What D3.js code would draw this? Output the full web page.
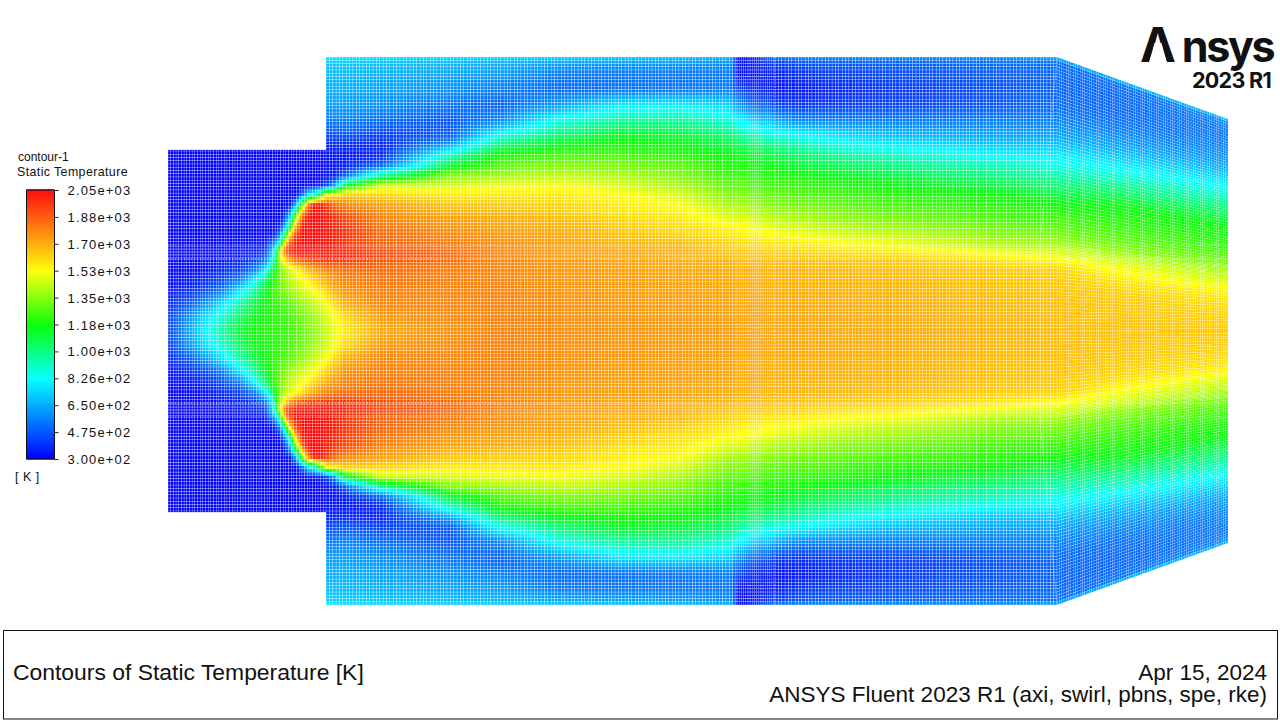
<!DOCTYPE html>
<html><head><meta charset="utf-8">
<script src="https://cdnjs.cloudflare.com/ajax/libs/d3/7.8.5/d3.min.js"></script>
<style>html,body{margin:0;padding:0;background:#fff;overflow:hidden}svg{display:block}text{font-family:"Liberation Sans",Arial,sans-serif;fill:#111}</style>
</head><body><svg id="c" width="1280" height="720"></svg>
<script>
// Axial stations (units from inlet plane) and radial rows of the half-domain table
const stations = [0,22,37,52,72,87,97,104,110,116,122,128,134,140,146,152,158,166,177,212,282,332,392,452,512,562,565,569,577,607,632,682,732,832,889,952,1060];
const radii = [0,14,28,42,52,62,72,79,86,96,106,116,126,136,146,156,166,176,186,196,211,226,241,256,269,274];
// Static temperature [K], one profile per station, axis to wall
const temperature = [
[430,415,370,330,310,300,300,300,300,300,300,300,300,300,300,300,300,300,300,300,300,300,300,300,300,300],
[650,610,480,370,335,310,305,300,300,300,300,300,300,300,300,300,300,300,300,300,300,300,300,300,300,300],
[800,760,600,430,370,330,310,305,302,300,300,300,300,300,300,300,300,300,300,300,300,300,300,300,300,300],
[950,870,740,510,430,370,330,315,310,300,300,300,300,300,300,300,300,300,300,300,300,300,300,300,300,300],
[1120,1060,950,740,540,420,350,330,320,305,300,300,300,300,300,300,300,300,300,300,300,300,300,300,300,300],
[1190,1160,1090,960,800,540,400,340,320,305,300,300,300,300,300,300,300,300,300,300,300,300,300,300,300,300],
[1200,1190,1180,1120,1020,760,500,400,350,310,300,300,300,300,300,300,300,300,300,300,300,300,300,300,300,300],
[1210,1205,1215,1215,1170,1030,760,700,550,320,300,300,300,300,300,300,300,300,300,300,300,300,300,300,300,300],
[1220,1215,1240,1280,1290,1280,1300,1300,826,450,310,300,300,300,300,300,300,300,300,300,300,300,300,300,300,300],
[1235,1235,1270,1340,1370,1400,1600,1800,1650,950,520,340,300,300,300,300,300,300,300,300,300,300,300,300,300,300],
[1255,1260,1300,1390,1430,1470,1780,1980,1950,1620,1050,680,340,300,300,300,300,300,300,300,300,300,300,300,300,300],
[1275,1285,1335,1430,1480,1530,1880,2030,2030,1950,1680,1300,680,310,300,300,300,300,300,300,300,300,300,300,300,300],
[1300,1315,1370,1470,1520,1600,1930,2030,2045,2040,2000,1800,1300,500,300,300,300,300,300,300,300,300,300,300,300,300],
[1330,1345,1405,1505,1560,1670,1950,2030,2045,2050,2050,2030,1800,800,310,300,300,300,300,300,300,300,300,300,300,300],
[1365,1380,1440,1530,1620,1720,1960,2030,2045,2050,2050,2050,2030,900,320,300,300,300,300,300,300,300,300,300,300,300],
[1400,1420,1480,1580,1670,1760,1970,2030,2040,2050,2050,2050,2040,1150,350,300,300,300,300,300,300,300,300,300,300,300],
[1430,1460,1520,1630,1710,1790,1975,2020,2030,2020,2020,2010,1950,1530,400,330,320,320,370,450,560,620,650,680,720,800],
[1500,1515,1600,1700,1750,1810,1970,2010,2000,2010,1990,1960,1850,1580,600,340,325,330,370,450,560,620,650,680,720,790],
[1570,1600,1700,1760,1790,1830,1970,2000,1960,1960,1940,1900,1780,1640,1100,480,350,330,380,470,570,620,650,680,720,780],
[1700,1740,1780,1800,1820,1840,1900,1920,1860,1850,1820,1780,1730,1620,1440,950,480,360,360,420,520,590,630,660,700,770],
[1760,1770,1780,1790,1795,1800,1840,1850,1810,1780,1750,1710,1650,1570,1460,1340,1100,920,640,470,470,530,590,630,680,760],
[1790,1790,1790,1790,1785,1780,1790,1790,1770,1745,1720,1690,1630,1570,1500,1380,1280,1190,1040,850,570,490,550,610,670,750],
[1770,1765,1760,1755,1750,1745,1745,1740,1725,1710,1690,1650,1610,1570,1510,1430,1340,1260,1160,1030,860,620,510,540,640,730],
[1750,1745,1740,1735,1730,1725,1720,1715,1690,1660,1630,1590,1560,1530,1470,1400,1330,1260,1200,1140,960,790,530,530,630,720],
[1740,1735,1730,1725,1720,1710,1700,1690,1680,1620,1590,1560,1525,1470,1400,1340,1280,1220,1175,1110,960,800,540,530,620,700],
[1730,1725,1720,1715,1705,1695,1680,1650,1620,1570,1530,1460,1400,1340,1290,1240,1200,1170,1100,1020,880,730,560,540,590,680],
[1729,1724,1719,1714,1704,1694,1679,1649,1619,1568,1528,1458,1398,1338,1288,1238,1198,1165,1095,1015,860,700,550,530,570,660],
[1728,1723,1718,1713,1703,1693,1678,1648,1618,1565,1525,1455,1395,1335,1285,1235,1195,1160,1085,1010,800,620,440,340,320,340],
[1725,1720,1715,1710,1700,1690,1675,1645,1610,1555,1515,1450,1390,1330,1280,1230,1185,1140,1060,940,770,560,400,330,320,340],
[1715,1710,1705,1700,1690,1680,1660,1630,1590,1530,1470,1400,1340,1290,1240,1200,1160,1090,1000,870,640,430,330,340,420,560],
[1710,1705,1700,1695,1685,1675,1650,1620,1570,1510,1450,1390,1330,1280,1230,1190,1110,1030,940,826,570,400,340,390,470,600],
[1705,1700,1695,1690,1680,1665,1640,1590,1530,1470,1400,1340,1290,1240,1200,1130,1050,950,840,740,560,420,380,420,490,610],
[1700,1695,1690,1685,1675,1655,1630,1570,1510,1440,1370,1310,1260,1215,1165,1080,990,905,790,680,550,430,410,440,500,600],
[1680,1675,1670,1660,1650,1630,1570,1500,1420,1350,1300,1250,1215,1180,1090,1000,920,810,700,630,550,470,460,480,520,600],
[1670,1665,1660,1650,1640,1620,1520,1470,1400,1330,1280,1230,1185,1100,1020,940,860,790,700,630,560,510,500,500,520,680],
[1655,1650,1640,1625,1590,1540,1490,1440,1380,1310,1270,1230,1200,1170,1090,1000,920,826,750,670,590,530,505,500,530,730],
[1640,1630,1610,1580,1540,1480,1430,1390,1340,1290,1250,1215,1190,1170,1100,1040,970,900,826,750,650,590,550,540,570,730]];
// Colour-bar ticks
const tickValues = [300,475,650,825,1000,1175,1350,1525,1700,1875,2050];
const tickLabels = ["3.00e+02","4.75e+02","6.50e+02","8.26e+02","1.00e+03","1.18e+03","1.35e+03","1.53e+03","1.70e+03","1.88e+03","2.05e+03"];
// Rainbow stops of the colour map
const colourStops = [300,825,1175,1525,2050];
const colourNames = ["#0000ff","#00ffff","#00ff00","#ffff00","#ff0000"];
// Geometry of the duct, in domain units
const inletEnd = 158, coneStart = 889, ductEnd = 1060, inletR = 181, wallR = 274, outletR = 212;
const bandInner = 72, bandOuter = 86;
const coolFrom = 568, coolTo = 607;
// Mesh interfaces that show as pale dotted lines: [axial, radial] end points
const interfaces = [
 [[0,bandInner],[ductEnd,bandInner]],
 [[0,bandOuter],[ductEnd,bandOuter]],
 [[607,0],[607,wallR]],
 [[568,0],[568,wallR]],
 [[872,0],[872,88],[889,wallR]]
];
const interfaceOpacity = [0.7,0.4,0.42,0.25,0.42];

const svg = d3.select("#c");
const X = d3.scaleLinear().domain([0,ductEnd]).range([168,1228]);
const Y = d3.scaleLinear().domain([-wallR,wallR]).range([605,57]);
const wallAt = d3.scaleLinear().domain([coneStart,ductEnd]).range([wallR,outletR]).clamp(true);
const colour = d3.scaleLinear().domain(colourStops).range(colourNames).interpolate(d3.interpolateRgb);

function tempAt(a,r){
  const i = Math.min(stations.length-2, Math.max(0,d3.bisectRight(stations,a)-1));
  const j = Math.min(radii.length-2, Math.max(0,d3.bisectRight(radii,r)-1));
  const u = Math.max(0,Math.min(1,(a-stations[i])/(stations[i+1]-stations[i])));
  const v = Math.max(0,Math.min(1,(r-radii[j])/(radii[j+1]-radii[j])));
  const p = temperature[i], q = temperature[i+1];
  return (p[j]*(1-v)+p[j+1]*v)*(1-u)+(q[j]*(1-v)+q[j+1]*v)*u;
}
// mesh
function edges(a,b,d){const n=Math.round((b-a)/d);return d3.range(n+1).map(k=>a+(b-a)*k/n);}
const axialEdges = [...edges(0,inletEnd,2.7),...edges(inletEnd,coolFrom,3.37).slice(1),...edges(coolFrom,coolTo,1.9).slice(1),...edges(coolTo,coneStart,3.37).slice(1),...edges(coneStart,ductEnd,2.3).slice(1)];
const radialEdges = [...edges(0,bandInner,3.23),...edges(bandInner,bandOuter,1.6).slice(1),...edges(bandOuter,wallR,3.23).slice(1)];
const cells=[];
for(let i=0;i<axialEdges.length-1;i++){
  const a0=axialEdges[i],a1=axialEdges[i+1],am=(a0+a1)/2;
  for(let j=0;j<radialEdges.length-1;j++){
    const r0=radialEdges[j]; let r1=radialEdges[j+1];
    if(am<inletEnd){ if(r0>=inletR) continue; r1=Math.min(r1,inletR+0.2); }
    const t=tempAt(am,(r0+r1)/2);
    cells.push({a0,a1,r0,r1,s:1,t}); cells.push({a0,a1,r0,r1,s:-1,t});
  }
}
const gap=0.11;
function cellPath(d){
  const g = d.a0>=coneStart ? gap*0.8 : gap;
  const da=(d.a1-d.a0)*g/2, dr=(d.r1-d.r0)*g/2;
  const x0=X(d.a0+da),x1=X(d.a1-da);
  const k0=wallAt(d.a0+da)/wallR,k1=wallAt(d.a1-da)/wallR;
  const f=(r,k)=>Y(d.s*r*k);
  return `M${x0},${f(d.r0+dr,k0)}L${x1},${f(d.r0+dr,k1)}L${x1},${f(d.r1-dr,k1)}L${x0},${f(d.r1-dr,k0)}Z`;
}
svg.append("g").attr("class","field").selectAll("path").data(cells).join("path")
  .attr("d",cellPath).attr("fill",d=>colour(d.t));

// mesh interfaces (both halves)
const ifaceLine = d3.line().x(d=>X(d[0])).y(d=>Y(d[1]));
const ifaceData = [1,-1].flatMap(s=>interfaces.map((l,i)=>({pts:l.map(p=>[p[0],s*p[1]]),o:interfaceOpacity[i]})));
svg.append("g").selectAll("path").data(ifaceData).join("path")
  .attr("d",d=>ifaceLine(d.pts)).attr("fill","none").attr("stroke","#fff").attr("stroke-opacity",d=>d.o).attr("stroke-width",1.2).attr("stroke-dasharray","1.6 1.6");

// colour bar
const L = d3.scaleLinear().domain([300,2050]).range([459,190]);
const bar = svg.append("g");
bar.selectAll("rect").data(d3.range(300,2050,6.5)).join("rect")
  .attr("x",27).attr("width",27).attr("y",d=>L(d+6.5)).attr("height",d=>L(d)-L(d+6.5)+0.5).attr("fill",d=>colour(d+3));
bar.append("rect").attr("x",26.5).attr("y",190).attr("width",28).attr("height",269).attr("fill","none").attr("stroke","#111").attr("stroke-width",1);
const ax = d3.axisRight(L).tickValues(tickValues).tickFormat((d,i)=>tickLabels[i]).tickSize(4).tickPadding(9);
const axg = svg.append("g").attr("transform","translate(54.5,0)").call(ax);
axg.select(".domain").remove();
axg.selectAll("line").attr("stroke","#222");
axg.selectAll("text").style("font-size","13px").style("letter-spacing","1.15px").attr("dy","0.35em");
svg.append("text").attr("x",18).attr("y",161).style("font-size","12px").text("contour-1");
svg.append("text").attr("x",17).attr("y",176).style("font-size","12.4px").style("letter-spacing","0.4px").text("Static Temperature");
svg.append("text").attr("x",15).attr("y",481).style("font-size","12.5px").style("letter-spacing","0.5px").text("[ K ]");

// footer
svg.append("rect").attr("x",3.5).attr("y",630.5).attr("width",1274).attr("height",88.5).attr("fill","none").attr("stroke","#111");
svg.append("text").attr("x",13).attr("y",680).style("font-size","22.9px").text("Contours of Static Temperature [K]");
svg.append("text").attr("x",1267).attr("y",680).attr("text-anchor","end").style("font-size","22.5px").text("Apr 15, 2024");
svg.append("text").attr("x",1267).attr("y",702).attr("text-anchor","end").style("font-size","22.5px").text("ANSYS Fluent 2023 R1 (axi, swirl, pbns, spe, rke)");

// logo
const logo = svg.append("text").attr("x",1140).attr("y",62).style("font-family","Inter").style("font-weight",700).style("font-size","43px");
logo.append("tspan").style("font-size","48px").style("letter-spacing","6px").text("A");
logo.append("tspan").style("letter-spacing","-2.4px").text("nsys");
svg.append("path").attr("d","M1149,63L1167,63L1161.5,43L1154.5,43Z").attr("fill","#fff");
svg.append("text").attr("x",1271).attr("y",87.5).attr("text-anchor","end").style("font-family","Inter").style("font-weight",700).style("font-size","21.5px").style("letter-spacing","-0.7px").text("2023 R1");
</script></body></html>
